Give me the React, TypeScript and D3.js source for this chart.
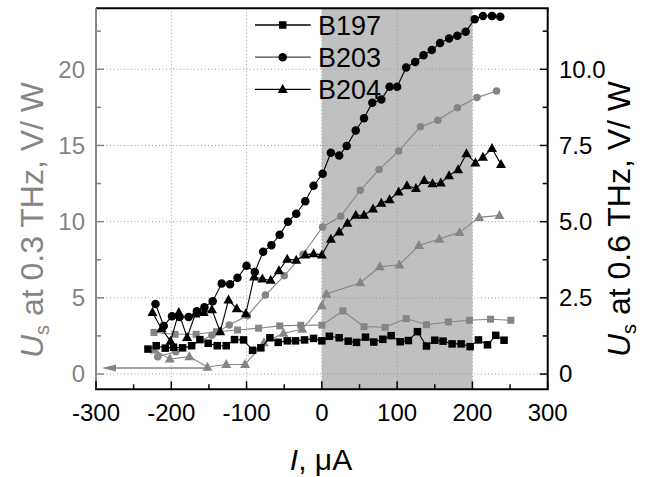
import React from "react";
import * as d3 from "d3";

// ---- data ----
const b197RightX = [-231,-220,-208,-197,-185,-173,-162,-151,-139,-127,-116,-104,-92,-81,-69,-58,-46,-35,-23,-11,0,10,23,35,46,58,69,81,92,104,115,127,139,150,161,173,185,197,208,220,231,242];
const b197RightY = [0.82,0.93,0.85,0.88,0.86,0.93,1.13,1.01,0.93,0.93,1.13,1.12,0.78,0.86,1.19,1.04,1.09,1.09,1.12,1.17,1.09,1.24,1.19,1.08,1.04,1.21,1.05,1.14,1.26,1.06,1.10,1.39,0.92,1.11,1.08,0.99,0.99,0.90,1.12,0.96,1.27,1.11];

const b197LeftX = [-223,-195,-167,-140,-112,-84,-56,-28,0,28,56,84,112,139,168,196,224,251];
const b197LeftY = [2.73,2.61,2.61,2.78,2.89,3.01,3.16,3.20,3.21,4.14,3.11,3.07,3.64,3.24,3.42,3.53,3.60,3.53];

const b203RightX = [-221,-210,-199,-189,-177,-166,-156,-145,-133,-122,-112,-100,-89,-78,-67,-56,-45,-34,-22,-11,1,12,23,33,45,56,67,79,90,100,112,124,135,146,157,169,180,191,203,214,226,237];
const b203RightY = [2.30,1.58,1.90,1.87,1.87,2.06,2.19,2.39,2.97,2.95,3.16,3.55,3.35,4.01,4.23,4.57,5.0,5.26,5.67,6.18,6.57,7.26,7.17,7.48,7.99,8.39,8.90,9.01,9.43,9.43,10.06,10.24,10.46,10.63,10.86,11.01,11.10,11.23,11.64,11.75,11.75,11.72];

const b203LeftX = [-218,-194,-173,-146,-123,-99,-75,-50,-25,1,25,51,76,102,131,154,180,206,232];
const b203LeftY = [1.14,1.47,1.88,2.55,3.22,3.82,5.18,6.45,7.86,9.65,10.35,12.06,13.42,14.63,16.23,16.66,17.48,18.14,18.57];

const b204RightX = [-225,-213,-201,-190,-179,-168,-157,-146,-135,-124,-113,-101,-90,-79,-68,-57,-46,-34,-22,-11,0,12,23,34,45,56,68,79,90,102,113,125,136,147,158,169,181,192,204,214,226,238];
const b204RightY = [2.02,1.49,1.08,2.02,1.20,1.97,2.02,2.11,1.39,2.43,2.15,1.98,3.19,3.12,3.08,3.39,3.77,3.74,3.91,3.95,3.91,4.43,4.66,4.95,5.21,5.21,5.42,5.61,5.72,5.98,6.18,6.09,6.35,6.25,6.27,6.51,6.71,7.23,6.93,7.12,7.40,6.88];

const b204LeftX = [-222,-202,-176,-152,-127,-102,-77,-51,-26,0,6,51,77,103,129,156,183,209,236];
const b204LeftY = [1.58,0.99,1.14,0.46,0.63,0.63,2.06,2.68,2.94,4.49,5.25,5.99,7.04,7.17,8.44,8.86,9.30,10.28,10.41];

const xTicks = [-300,-200,-100,0,100,200,300];
const xMinor = [-250,-150,-50,50,150,250];
const leftTicks = [0,5,10,15,20];
const leftMinor = [2.5,7.5,12.5,17.5,22.5];
const rightTicks = [0,2.5,5,7.5,10];
const rightTickLabels = ["0","2.5","5.0","7.5","10.0"];
const rightMinor = [1.25,3.75,6.25,8.75,11.25];
const legendNames = ["B197","B203","B204"];
const shadeRange = [0,200];
const arrowRange = [-152,-292];
const arrowY = 0.4;

const GRAY = "#858585";
const FONT = "'Liberation Sans', Arial, Helvetica, sans-serif";

const L = 96, R = 547.7, T = 8.3, B = 389.3;
const x = d3.scaleLinear().domain([-300,300]).range([L,R]);
const yL = d3.scaleLinear().domain([-1,24]).range([B,T]);
const yR = d3.scaleLinear().domain([-0.5,12]).range([B,T]);

type Shape = "square" | "circle" | "triangle";

function Marker({cx, cy, shape, color, size}: {cx:number; cy:number; shape:Shape; color:string; size:number}) {
  if (shape === "circle") return <circle cx={cx} cy={cy} r={size/2} fill={color} />;
  if (shape === "square") return <rect x={cx-size/2} y={cy-size/2} width={size} height={size} fill={color} />;
  const h = size*0.9;
  return <path d={`M${cx},${cy-h*0.6}L${cx+size/2},${cy+h*0.4}L${cx-size/2},${cy+h*0.4}Z`} fill={color} />;
}

function Series({xs, ys, ys_scale, shape, color, size}: {xs:number[]; ys:number[]; ys_scale:d3.ScaleLinear<number,number>; shape:Shape; color:string; size:number}) {
  const pts = xs.map((v,i)=>[x(v), ys_scale(ys[i])] as [number,number]);
  const line = d3.line()(pts) || "";
  return (
    <g>
      <path d={line} fill="none" stroke={color} strokeWidth={1.1} />
      {pts.map((p,i)=><Marker key={i} cx={p[0]} cy={p[1]} shape={shape} color={color} size={size} />)}
    </g>
  );
}

export default function App() {
  const shapes: Shape[] = ["square","circle","triangle"];
  const legendLine = ["#000","#444","#000"];
  return (
    <svg width={653} height={477} style={{position:"absolute", left:0, top:0, background:"#fff"}} fontFamily={FONT}>
      <rect x={0} y={0} width={653} height={477} fill="#fff" />
      {/* shaded region */}
      <rect x={x(shadeRange[0])} y={T} width={x(shadeRange[1])-x(shadeRange[0])} height={B-T} fill="#c0c0c0" />
      {/* grid */}
      {xTicks.filter(t=>t>-300 && t<300).map(t=>(
        <line key={"gx"+t} x1={x(t)} x2={x(t)} y1={T} y2={B} stroke="#9a9a9a" strokeWidth={1} strokeDasharray="1,2.5" />
      ))}
      {leftTicks.map(t=>(
        <line key={"gy"+t} x1={L} x2={R} y1={yL(t)} y2={yL(t)} stroke="#9a9a9a" strokeWidth={1} strokeDasharray="1,2.5" />
      ))}
      {/* arrow */}
      <line x1={x(arrowRange[0])} x2={x(arrowRange[1])+10} y1={yL(arrowY)} y2={yL(arrowY)} stroke={GRAY} strokeWidth={1.5} />
      <path d={`M${x(arrowRange[1])},${yL(arrowY)}L${x(arrowRange[1])+14},${yL(arrowY)-3.5}L${x(arrowRange[1])+14},${yL(arrowY)+3.5}Z`} fill={GRAY} />
      {/* gray series (left axis) */}
      <Series xs={b197LeftX} ys={b197LeftY} ys_scale={yL} shape="square" color={GRAY} size={7} />
      <Series xs={b203LeftX} ys={b203LeftY} ys_scale={yL} shape="circle" color={GRAY} size={7.5} />
      <Series xs={b204LeftX} ys={b204LeftY} ys_scale={yL} shape="triangle" color={GRAY} size={10} />
      {/* black series (right axis) */}
      <Series xs={b197RightX} ys={b197RightY} ys_scale={yR} shape="square" color="#000" size={7.5} />
      <Series xs={b203RightX} ys={b203RightY} ys_scale={yR} shape="circle" color="#000" size={8.5} />
      <Series xs={b204RightX} ys={b204RightY} ys_scale={yR} shape="triangle" color="#000" size={10} />
      {/* frame */}
      <line x1={L} x2={R+1} y1={T} y2={T} stroke="#000" strokeWidth={2} />
      <line x1={L-1} x2={R+1} y1={B} y2={B} stroke="#000" strokeWidth={2} />
      <line x1={R} x2={R} y1={T} y2={B} stroke="#000" strokeWidth={2} />
      <line x1={L} x2={L} y1={T} y2={B} stroke={GRAY} strokeWidth={2} />
      {/* bottom ticks */}
      {xTicks.map(t=><line key={"bt"+t} x1={x(t)} x2={x(t)} y1={B} y2={B-8} stroke="#000" strokeWidth={1.5} />)}
      {xMinor.map(t=><line key={"bm"+t} x1={x(t)} x2={x(t)} y1={B} y2={B-5} stroke="#000" strokeWidth={1.5} />)}
      {xTicks.map(t=><text key={"bl"+t} x={x(t)} y={421} fontSize={24} textAnchor="middle" fill="#000">{t}</text>)}
      {/* left ticks */}
      {leftTicks.map(t=><line key={"lt"+t} x1={L} x2={L+8} y1={yL(t)} y2={yL(t)} stroke={GRAY} strokeWidth={1.5} />)}
      {leftMinor.map(t=><line key={"lm"+t} x1={L} x2={L+5} y1={yL(t)} y2={yL(t)} stroke={GRAY} strokeWidth={1.5} />)}
      {leftTicks.map(t=><text key={"ll"+t} x={85} y={yL(t)} dy="0.35em" fontSize={24} textAnchor="end" fill={GRAY}>{t}</text>)}
      {/* right ticks */}
      {rightTicks.map(t=><line key={"rt"+t} x1={R} x2={R-8} y1={yR(t)} y2={yR(t)} stroke="#000" strokeWidth={1.5} />)}
      {rightMinor.map(t=><line key={"rm"+t} x1={R} x2={R-5} y1={yR(t)} y2={yR(t)} stroke="#000" strokeWidth={1.5} />)}
      {rightTicks.map((t,i)=><text key={"rl"+t} x={559} y={yR(t)} dy="0.35em" fontSize={24} textAnchor="start" fill="#000">{rightTickLabels[i]}</text>)}
      {/* axis titles */}
      <text transform={`translate(43,${220}) rotate(-90)`} textAnchor="middle" fontSize={32} fill={GRAY}>
        <tspan fontStyle="italic">U</tspan><tspan fontSize={20} dy={6}>s</tspan><tspan dy={-6}>{"  at 0.3 THz, V/ W"}</tspan>
      </text>
      <text transform={`translate(630,${219}) rotate(-90)`} textAnchor="middle" fontSize={32} fill="#000">
        <tspan fontStyle="italic">U</tspan><tspan fontSize={20} dy={6}>s</tspan><tspan dy={-6}>{" at 0.6 THz, V/ W"}</tspan>
      </text>
      <text x={321} y={470} textAnchor="middle" fontSize={30} fill="#000">
        <tspan fontStyle="italic">I</tspan><tspan>{", μA"}</tspan>
      </text>
      {/* legend */}
      {legendNames.map((n,i)=>{
        const yy = 25 + i*32.2;
        return (
          <g key={n}>
            <line x1={255} x2={310.7} y1={yy} y2={yy} stroke={legendLine[i]} strokeWidth={1.3} />
            <Marker cx={282.7} cy={yy} shape={shapes[i]} color="#000" size={i===2?10:(i===1?8.5:7.5)} />
            <text x={318} y={yy} dy="0.36em" fontSize={27} fill="#000">{n}</text>
          </g>
        );
      })}
    </svg>
  );
}
